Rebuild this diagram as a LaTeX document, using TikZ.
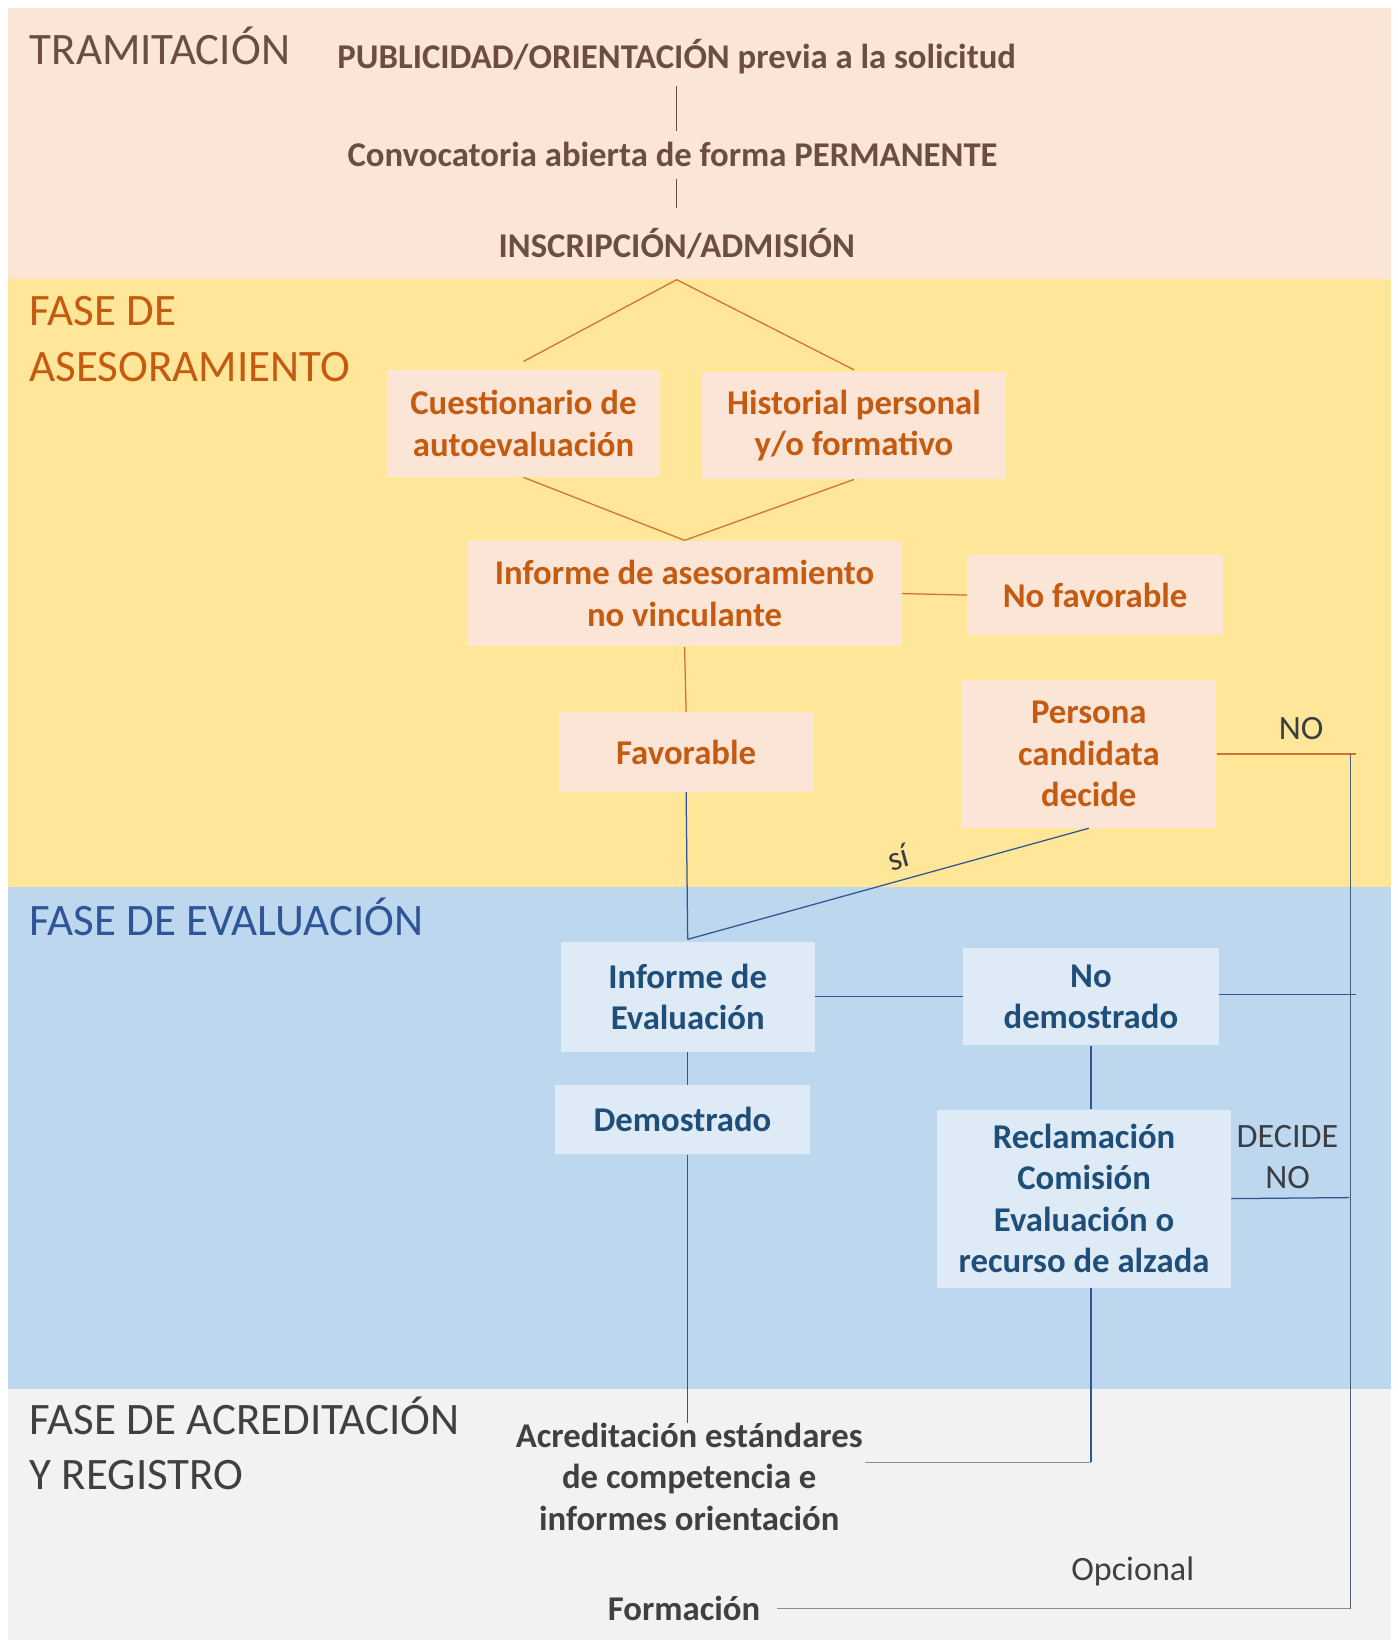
\documentclass[tikz,border=0pt]{standalone}
\usepackage{fontspec}
\setmainfont{Carlito}
\usepackage{xcolor}
\usepackage{tikz}
\usetikzlibrary{calc}
\definecolor{tramBg}{HTML}{FBE5D6}
\definecolor{aseBg}{HTML}{FFE699}
\definecolor{evaBg}{HTML}{BDD7EE}
\definecolor{acrBg}{HTML}{F2F2F2}
\definecolor{aseBox}{HTML}{FBE5D6}
\definecolor{evaBox}{HTML}{DEEBF7}
\definecolor{tramTxt}{HTML}{6B4E3F}
\definecolor{aseTxt}{HTML}{C55A11}
\definecolor{evaTxt}{HTML}{1F4E79}
\definecolor{evaHead}{HTML}{2F5597}
\definecolor{acrTxt}{HTML}{404040}
\definecolor{lblTxt}{HTML}{3B3F45}
\definecolor{aseLn}{HTML}{D0712E}
\definecolor{evaLn}{HTML}{2F5597}
\definecolor{acrLn}{HTML}{8C8C8C}
\definecolor{sideLn}{HTML}{4A5E7A}
\tikzset{
    head/.style={anchor=west, inner sep=0pt, align=left, font=\fontsize{21.5}{26.5}\selectfont},
    plain/.style={inner sep=0pt, align=center, font=\bfseries\fontsize{16.6}{19.8}\selectfont},
    asebox/.style={plain, fill=aseBox, text=aseTxt},
    evabox/.style={plain, fill=evaBox, text=evaTxt},
    lbl/.style={inner sep=0pt, align=center, text=lblTxt, font=\fontsize{16.3}{19.6}\selectfont},
    ln/.style={line width=0.6pt}}

\begin{document}
\begin{tikzpicture}[x=0.5pt,y=-0.5pt]
\useasboundingbox (0,0) rectangle (1336,1568);

% bands
\fill[tramBg] (8,8) rectangle (1330,267);
\fill[aseBg]  (8,267) rectangle (1330,848);
\fill[evaBg]  (8,848) rectangle (1330,1328);
\fill[acrBg]  (8,1328) rectangle (1330,1568);

\node[head, text=tramTxt] (hTram) at (28,44) {TRAMITACIÓN};
\node[head, text=aseTxt] (hAse) at (28,324) {FASE DE\\ASESORAMIENTO};
\node[head, text=evaHead] (hEva) at (28,877) {FASE DE EVALUACIÓN};
\node[head, text=acrTxt] (hAcr) at (28,1380) {FASE DE ACREDITACIÓN\\Y REGISTRO};

% tramitacion
\node[plain, text=tramTxt, minimum height=28pt] (publi) at (647,54) {PUBLICIDAD/ORIENTACIÓN previa a la solicitud};
\node[plain, text=tramTxt, minimum height=22.5pt] (convo) at (643,148) {Convocatoria abierta de forma PERMANENTE};
\node[plain, text=tramTxt, minimum height=34pt] (inscr) at (647,233) {INSCRIPCIÓN/ADMISIÓN};
\draw[ln, tramTxt] (publi.south) -- (publi.south |- convo.north);
\draw[ln, tramTxt] (publi.south |- convo.south) -- (publi.south |- inscr.north);

% asesoramiento
\node[asebox, minimum width=130.5pt, minimum height=51pt] (cuest) at (500.5,405) {Cuestionario de\\autoevaluación};
\node[asebox, minimum width=145.5pt, minimum height=51pt] (hist) at (816.5,407) {Historial personal\\y/o formativo};
\node[asebox, minimum width=207.5pt, minimum height=50.5pt] (infA) at (654.5,567.5) {Informe de asesoramiento\\no vinculante};
\node[asebox, minimum width=122pt, minimum height=38pt] (nofav) at (1047,569) {No favorable};
\node[asebox, minimum width=122pt, minimum height=38pt] (fav) at (656,719) {Favorable};
\node[asebox, minimum width=122pt, minimum height=70.5pt] (pers) at (1041,721) {Persona\\candidata\\decide};
\draw[ln, aseLn] ([yshift=4pt]cuest.north) -- (inscr.south) -- ([yshift=1pt]hist.north);
\draw[ln, aseLn] (cuest.south) -- (infA.north) -- (hist.south);
\draw[ln, aseLn] (infA.east) -- (nofav.west);
\draw[ln, aseLn] (infA.south) -- (fav.north);
\coordinate (noEnd) at (1296,721);
\draw[ln, aseLn] (pers.east) -- (noEnd);
\node[lbl] (lNo) at (1244,697) {NO};

% evaluacion
\node[evabox, minimum width=121.5pt, minimum height=52.5pt] (infE) at (657.5,953) {Informe de\\Evaluación};
\node[evabox, minimum width=122pt, minimum height=46.5pt] (nodem) at (1043,953) {No\\demostrado};
\node[evabox, minimum width=121.5pt, minimum height=33pt] (dem) at (652.5,1070.5) {Demostrado};
\node[evabox, minimum width=140.5pt, minimum height=85pt] (recl) at (1036.5,1146) {Reclamación\\Comisión\\Evaluación o\\recurso de alzada};
\draw[ln, evaLn] (fav.south) -- ([yshift=1pt]infE.north);
\draw[ln, evaLn] ([yshift=1pt]infE.north) -- node[lbl, pos=0.54, above=5pt, sloped] (lSi) {sí} (pers.south);
\draw[ln, evaLn] (infE.east) -- (nodem.west);
\coordinate (demEnd) at (1296,951);
\draw[ln, evaLn] ([yshift=1pt]nodem.east) -- (demEnd);
\draw[ln, evaLn] (infE.south) -- (infE.south |- dem.north);
\draw[ln, evaLn] (nodem.south) -- (nodem.south |- recl.north);
\coordinate (reclEnd) at (1290,1145);
\draw[ln, evaLn] (recl.east) -- (reclEnd);
\node[lbl] (lDecide) at (1231,1106) {DECIDE\\NO};

% acreditacion
\node[plain, text=acrTxt] (acr) at (659,1412) {Acreditación estándares\\de competencia e\\informes orientación};
\node[plain, text=acrTxt] (form) at (654,1538) {Formación};
\node[lbl, text=acrTxt] (lOpc) at (1083,1502) {Opcional};
\coordinate (accJoin) at (1043,1398);
\draw[ln, evaLn] (nodem.south |- recl.south) -- (accJoin);
\draw[ln, acrLn] (accJoin) -- ([xshift=1pt]accJoin -| acr.east);
\draw[ln, evaLn] (infE.south |- dem.south) -- (infE.south |- acr.north);

% salida lateral
\coordinate (sideTop) at (1291,721);
\coordinate (sideBot) at (1291,1538);
\draw[ln, sideLn] (sideTop) -- (sideBot);
\draw[ln, acrLn] ([xshift=8pt]form.east) -- (sideBot);
\end{tikzpicture}
\end{document}
